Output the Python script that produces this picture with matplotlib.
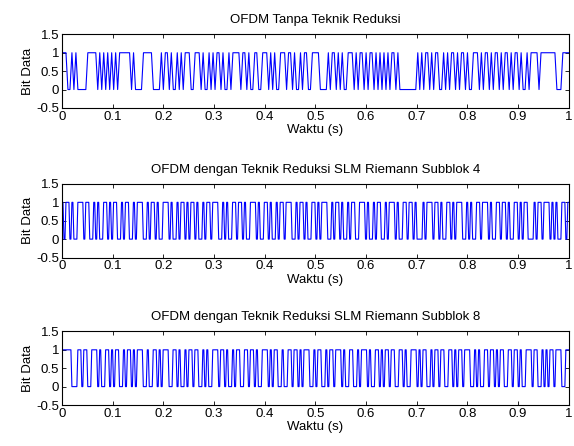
import numpy as np
import matplotlib.pyplot as plt

# bit sequences read (approximately) off the reference, 256 samples each
bits_tanpa = (
    "11100101000001111101010101010111"
    "11101000011111000010110100101011"
    "10011101001010110100101111011010"
    "01100111010100111011010010110011"
    "11000010110101001110101101011010"
    "10101011010000000001010110101100"
    "10101101011010011101011010110101"
    "10101101001011110111111110001111"
)
bits_sub4 = (
    "10110100111011001010011010110010"
    "11001011100101101001110100101101"
    "01101001011011100101001101101001"
    "11010011010010110111001011010011"
    "01011100101101001011001110100101"
    "10010111010011011010001011101101"
    "00110101110010100110111010011011"
    "01001101011000101101110101001101"
)
bits_sub8 = (
    "11111000110110011101001101011001"
    "01101011100100110101110011010010"
    "11011001010011101101001011001101"
    "10100111010110010011011010111001"
    "01100101101110100110010111010011"
    "01011011001101001110101100101101"
    "10011010110111001010011011010110"
    "01101101001110110010101101110011"
)

titles = [
    "OFDM Tanpa Teknik Reduksi",
    "OFDM dengan Teknik Reduksi SLM Riemann Subblok 4",
    "OFDM dengan Teknik Reduksi SLM Riemann Subblok 8",
]
xticks = np.round(np.arange(0, 1.01, 0.1), 1)
xticklabels = ["0", "0.1", "0.2", "0.3", "0.4", "0.5", "0.6", "0.7", "0.8", "0.9", "1"]
yticks = [-0.5, 0, 0.5, 1, 1.5]
yticklabels = ["-0.5", "0", "0.5", "1", "1.5"]


def to_arr(s):
    return np.array([int(c) for c in s], dtype=float)


plt.rcParams.update({
    "font.family": ["Liberation Sans", "DejaVu Sans"],
    "font.size": 9.5,
    "axes.linewidth": 0.8,
})

fig = plt.figure(figsize=(5.74, 4.46), dpi=100)
bottoms = [0.758, 0.4226, 0.0919]
axs = [fig.add_axes([0.108, b, 0.883, 0.165]) for b in bottoms]

# panel 1: plain line through samples
y1 = to_arr(bits_tanpa)
t1 = np.linspace(0, 1, len(y1))
axs[0].plot(t1, y1, color="#0000ff", linewidth=0.8)

# panels 2 and 3: each bit held for two samples (near-vertical edges)
for ax, s in zip(axs[1:], [bits_sub4, bits_sub8]):
    y = np.repeat(to_arr(s), 2)
    t = np.linspace(0, 1, len(y))
    ax.plot(t, y, color="#0000ff", linewidth=0.8, snap=False)

for ax, title in zip(axs, titles):
    ax.set_xlim(0, 1)
    ax.set_ylim(-0.5, 1.5)
    ax.set_xticks(xticks)
    ax.set_xticklabels(xticklabels)
    ax.set_yticks(yticks)
    ax.set_yticklabels(yticklabels)
    ax.set_title(title, fontsize=9.5, pad=8)
    ax.set_xlabel("Waktu (s)", labelpad=1)
    ax.set_ylabel("Bit Data", labelpad=2)
    ax.tick_params(direction="in", length=3, width=0.6, top=True, right=True, pad=2)

fig.savefig("out.png", dpi=100)
